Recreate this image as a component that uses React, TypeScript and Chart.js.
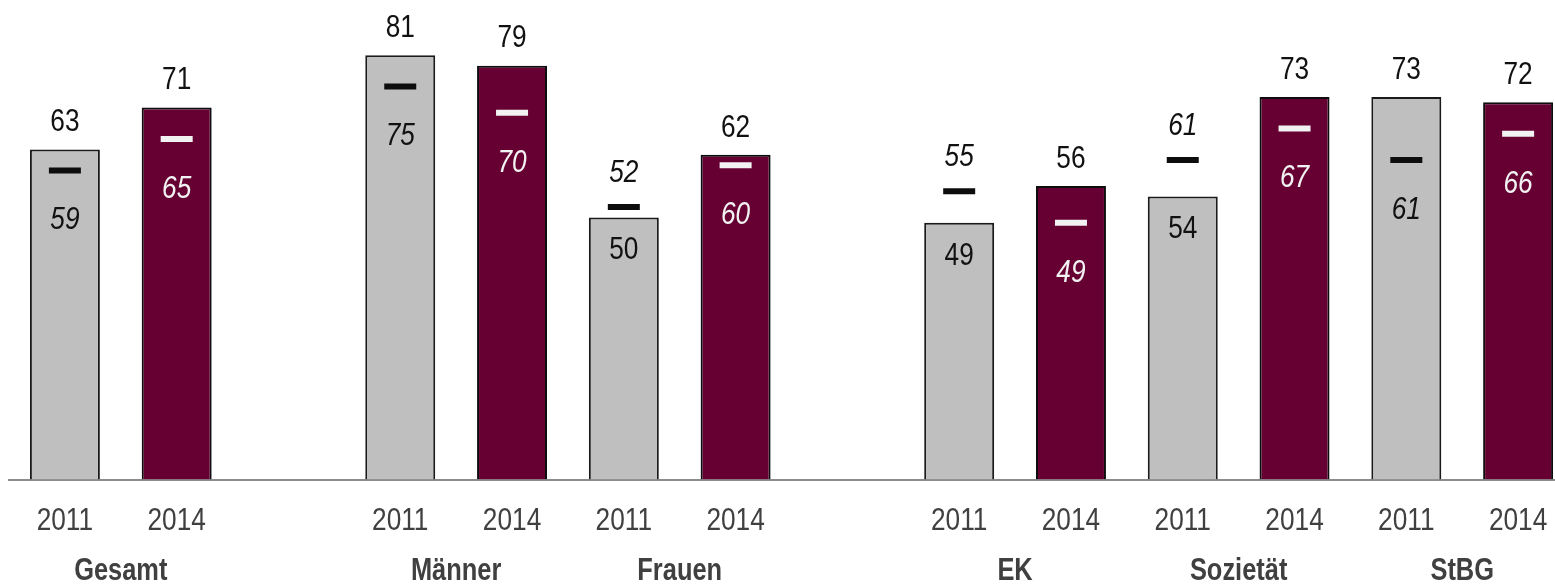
import React, { useEffect, useRef } from "react";
import { Chart, registerables } from "chart.js";

Chart.register(...registerables);

// ---- data ----
const sections: string[][] = [["Gesamt"], ["Männer", "Frauen"], ["EK", "Sozietät", "StBG"]];
const years = ["2011", "2014"];
const values2011 = [63, 81, 50, 49, 54, 73];
const values2014 = [71, 79, 62, 56, 73, 72];
const avg2011 = [59, 75, 52, 55, 61, 61];
const avg2014 = [65, 70, 60, 49, 67, 66];

const FONT = "'Liberation Sans Narrow', 'Arial Narrow', 'Liberation Sans', Arial, sans-serif";
const NARROW = 0.82;
const GRAY = "#bfbfbf";
const MAROON = "#660033";

// slot index of each group's first bar (one empty slot between sections)
const groups: string[] = [];
const groupSlot: number[] = [];
{
  let s = 0;
  sections.forEach((sec, si) => {
    sec.forEach((g) => {
      groups.push(g);
      groupSlot.push(s);
      s += 2;
    });
    if (si < sections.length - 1) s += 1;
  });
}

function narrowText(ctx: CanvasRenderingContext2D, t: string, x: number, y: number) {
  ctx.save();
  ctx.translate(x, y);
  ctx.scale(NARROW, 1);
  ctx.fillText(t, 0, 0);
  ctx.restore();
}

export default function App() {
  const ref = useRef<HTMLCanvasElement>(null);
  useEffect(() => {
    if (!ref.current) return;
    const barData = (vals: number[], k: number) => vals.map((v, i) => ({ x: groupSlot[i] + k, y: v }));

    const labelPlugin = {
      id: "labels",
      afterDatasetsDraw(chart: any) {
        const ctx = chart.ctx;
        ctx.save();
        ctx.textAlign = "center";
        ctx.textBaseline = "middle";
        const pairs = [
          { bar: 2, mark: 0, vals: [values2011, avg2011], inner: "#111111" },
          { bar: 3, mark: 1, vals: [values2014, avg2014], inner: "#f2f2f2" },
        ];
        pairs.forEach((p) => {
          const bars = chart.getDatasetMeta(p.bar).data;
          const marks = chart.getDatasetMeta(p.mark).data;
          const [vals, avgs] = p.vals;
          vals.forEach((v, i) => {
            const b = bars[i];
            const m = marks[i];
            const a = avgs[i];
            // bar value
            ctx.font = `32px ${FONT}`;
            ctx.fillStyle = "#111111";
            if (a > v) narrowText(ctx, String(v), b.x, b.y + 33);
            else narrowText(ctx, String(v), b.x, b.y - 27);
            // average value
            ctx.font = `italic 32px ${FONT}`;
            if (a < v) {
              ctx.fillStyle = p.inner;
              narrowText(ctx, String(a), m.x, m.y + 50);
            } else {
              ctx.fillStyle = "#111111";
              narrowText(ctx, String(a), m.x, m.y - 34);
            }
          });
        });
        const xs = chart.scales.x;
        // year labels under each bar
        ctx.font = `32px ${FONT}`;
        ctx.fillStyle = "#404040";
        groupSlot.forEach((s) => {
          narrowText(ctx, years[0], xs.getPixelForValue(s), 521);
          narrowText(ctx, years[1], xs.getPixelForValue(s + 1), 521);
        });
        // group labels
        ctx.font = `bold 31px ${FONT}`;
        groups.forEach((g, i) => {
          narrowText(ctx, g, xs.getPixelForValue(groupSlot[i] + 0.5), 571);
        });
        ctx.restore();
      },
    };

    const markerDs = (label: string, data: any[], color: string) =>
      ({
        type: "line",
        label,
        data,
        showLine: false,
        clip: false,
        pointStyle: "line",
        pointRadius: 16,
        pointHoverRadius: 16,
        pointBorderWidth: 6,
        pointHoverBorderWidth: 6,
        borderColor: color,
        pointBorderColor: color,
        order: 0,
      } as any);

    const chart = new Chart(ref.current, {
      type: "bar",
      data: {
        datasets: [
          markerDs("Ø 2011", barData(avg2011, 0), "#0d0d0d"),
          markerDs("Ø 2014", barData(avg2014, 1), "#f2f2f2"),
          {
            label: years[0],
            data: barData(values2011, 0),
            backgroundColor: GRAY,
            borderColor: "#1a1a1a",
            borderWidth: 2,
            order: 1,
          },
          {
            label: years[1],
            data: barData(values2014, 1),
            backgroundColor: MAROON,
            borderColor: "#0d0d0d",
            borderWidth: 2,
            order: 1,
          },
        ],
      },
      options: {
        responsive: false,
        animation: false,
        events: [],
        layout: { autoPadding: false, padding: { left: 9, right: 0, top: 8, bottom: 0 } },
        datasets: { bar: { grouped: false, categoryPercentage: 1, barPercentage: 0.626 } as any },
        plugins: { legend: { display: false }, tooltip: { enabled: false } },
        scales: {
          x: {
            type: "linear",
            min: -0.5,
            max: 13.33,
            offset: false,
            grid: { display: false, drawTicks: false },
            border: { display: true, color: "#8c8c8c", width: 2 },
            afterBuildTicks: (scale: any) => {
              const t: any[] = [];
              groupSlot.forEach((s) => {
                t.push({ value: s });
                t.push({ value: s + 1 });
              });
              scale.ticks = t;
            },
            afterFit: (scale: any) => {
              scale.height = 105.5;
              scale.paddingLeft = 0;
              scale.paddingRight = 0;
            },
            ticks: { display: false },
          },
          y: { display: false, min: 0, max: 90 },
        },
      },
      plugins: [labelPlugin],
    });
    return () => chart.destroy();
  }, []);

  return (
    <div style={{ position: "absolute", left: 0, top: 0, width: 1555, height: 585 }}>
      <canvas ref={ref} width={1555} height={585} style={{ display: "block" }} />
    </div>
  );
}
